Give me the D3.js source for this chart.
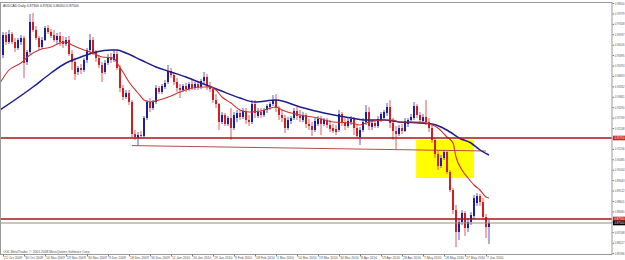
<!DOCTYPE html>
<html>
<head>
<meta charset="utf-8">
<script src="https://cdn.jsdelivr.net/npm/d3@7/dist/d3.min.js"></script>
<style>
  body { margin: 0; background: #fff; }
  svg { display: block; font-family: "Liberation Sans", Arial, sans-serif; }
</style>
</head>
<body>
<svg id="chart"></svg>
<script>
var symbol = "AUDCAD,Daily";

// daily bars: [open, high, low, close]
var ohlc = [
  [0.9590,0.9705,0.9575,0.9690], [0.9690,0.9705,0.9640,0.9655], [0.9655,0.9715,0.9645,0.9695], [0.9695,0.9705,0.9645,0.9655],
  [0.9655,0.9675,0.9605,0.9625], [0.9625,0.9675,0.9615,0.9665], [0.9655,0.9690,0.9640,0.9675], [0.9675,0.9685,0.9475,0.9550],
  [0.9555,0.9615,0.9540,0.9605], [0.9605,0.9795,0.9595,0.9755], [0.9755,0.9800,0.9705,0.9715], [0.9715,0.9735,0.9665,0.9675],
  [0.9675,0.9685,0.9615,0.9630], [0.9630,0.9680,0.9620,0.9665], [0.9665,0.9735,0.9660,0.9725], [0.9725,0.9740,0.9695,0.9705],
  [0.9705,0.9720,0.9675,0.9685], [0.9690,0.9715,0.9655,0.9665], [0.9665,0.9700,0.9645,0.9685], [0.9685,0.9705,0.9635,0.9655],
  [0.9660,0.9685,0.9625,0.9645], [0.9645,0.9680,0.9635,0.9665], [0.9665,0.9685,0.9585,0.9595], [0.9595,0.9615,0.9515,0.9555],
  [0.9555,0.9575,0.9465,0.9495], [0.9505,0.9535,0.9490,0.9525], [0.9525,0.9545,0.9495,0.9515], [0.9515,0.9575,0.9505,0.9565],
  [0.9565,0.9625,0.9550,0.9615], [0.9615,0.9695,0.9605,0.9665], [0.9665,0.9680,0.9590,0.9605], [0.9605,0.9615,0.9555,0.9575],
  [0.9575,0.9590,0.9525,0.9540], [0.9540,0.9555,0.9455,0.9500], [0.9505,0.9565,0.9495,0.9550], [0.9550,0.9595,0.9540,0.9580],
  [0.9580,0.9600,0.9550,0.9565], [0.9565,0.9615,0.9555,0.9595], [0.9595,0.9615,0.9515,0.9525], [0.9525,0.9540,0.9405,0.9425],
  [0.9425,0.9440,0.9365,0.9380], [0.9380,0.9415,0.9370,0.9400], [0.9400,0.9415,0.9340,0.9355], [0.9355,0.9365,0.9175,0.9195],
  [0.9195,0.9215,0.9165,0.9180], [0.9175,0.9205,0.9135,0.9190], [0.9190,0.9210,0.9175,0.9185], [0.9185,0.9285,0.9175,0.9275],
  [0.9275,0.9365,0.9265,0.9355], [0.9355,0.9375,0.9305,0.9325], [0.9325,0.9365,0.9315,0.9355], [0.9355,0.9440,0.9345,0.9425],
  [0.9425,0.9435,0.9395,0.9405], [0.9405,0.9445,0.9395,0.9435], [0.9430,0.9465,0.9420,0.9450], [0.9455,0.9540,0.9445,0.9510],
  [0.9510,0.9525,0.9475,0.9490], [0.9490,0.9505,0.9440,0.9455], [0.9455,0.9475,0.9405,0.9425], [0.9425,0.9445,0.9375,0.9415],
  [0.9415,0.9445,0.9405,0.9435], [0.9435,0.9450,0.9405,0.9420], [0.9420,0.9455,0.9410,0.9445], [0.9445,0.9465,0.9415,0.9425],
  [0.9425,0.9455,0.9415,0.9445], [0.9445,0.9460,0.9415,0.9430], [0.9430,0.9470,0.9420,0.9460], [0.9460,0.9505,0.9445,0.9480],
  [0.9480,0.9495,0.9415,0.9435], [0.9435,0.9455,0.9405,0.9420], [0.9420,0.9430,0.9350,0.9365], [0.9365,0.9395,0.9325,0.9345],
  [0.9345,0.9350,0.9215,0.9255], [0.9255,0.9305,0.9245,0.9290], [0.9290,0.9300,0.9235,0.9245], [0.9245,0.9285,0.9235,0.9275],
  [0.9275,0.9325,0.9165,0.9225], [0.9225,0.9305,0.9215,0.9290], [0.9275,0.9315,0.9255,0.9300], [0.9300,0.9315,0.9265,0.9280],
  [0.9280,0.9325,0.9270,0.9310], [0.9310,0.9325,0.9245,0.9265], [0.9265,0.9290,0.9235,0.9255], [0.9255,0.9365,0.9245,0.9345],
  [0.9345,0.9365,0.9275,0.9300], [0.9285,0.9325,0.9275,0.9305], [0.9305,0.9325,0.9275,0.9290], [0.9290,0.9325,0.9280,0.9315],
  [0.9315,0.9345,0.9300,0.9335], [0.9330,0.9355,0.9315,0.9345], [0.9345,0.9390,0.9335,0.9365], [0.9365,0.9395,0.9305,0.9325],
  [0.9325,0.9335,0.9265,0.9290], [0.9290,0.9315,0.9255,0.9275], [0.9275,0.9290,0.9200,0.9225], [0.9225,0.9280,0.9215,0.9265],
  [0.9260,0.9285,0.9245,0.9275], [0.9275,0.9325,0.9265,0.9310], [0.9310,0.9330,0.9265,0.9285], [0.9285,0.9315,0.9255,0.9275],
  [0.9265,0.9305,0.9255,0.9290], [0.9290,0.9300,0.9225,0.9245], [0.9245,0.9270,0.9215,0.9235], [0.9235,0.9255,0.9185,0.9215],
  [0.9215,0.9275,0.9205,0.9260], [0.9245,0.9285,0.9235,0.9270], [0.9270,0.9285,0.9190,0.9245], [0.9245,0.9275,0.9235,0.9265],
  [0.9265,0.9275,0.9225,0.9240], [0.9240,0.9265,0.9205,0.9220], [0.9225,0.9245,0.9200,0.9210], [0.9220,0.9240,0.9190,0.9205],
  [0.9215,0.9315,0.9205,0.9295], [0.9295,0.9305,0.9235,0.9250], [0.9250,0.9275,0.9215,0.9235], [0.9235,0.9275,0.9225,0.9260],
  [0.9255,0.9285,0.9240,0.9270], [0.9270,0.9280,0.9190,0.9225], [0.9225,0.9240,0.9175,0.9185], [0.9180,0.9230,0.9140,0.9215],
  [0.9215,0.9275,0.9205,0.9255], [0.9255,0.9340,0.9240,0.9305], [0.9305,0.9330,0.9215,0.9235], [0.9230,0.9265,0.9215,0.9250],
  [0.9250,0.9265,0.9225,0.9235], [0.9235,0.9285,0.9225,0.9270], [0.9265,0.9305,0.9255,0.9295], [0.9275,0.9315,0.9265,0.9305],
  [0.9300,0.9350,0.9285,0.9330], [0.9330,0.9365,0.9225,0.9250], [0.9250,0.9275,0.9165,0.9210], [0.9210,0.9235,0.9115,0.9195],
  [0.9195,0.9240,0.9185,0.9225], [0.9225,0.9245,0.9195,0.9210], [0.9210,0.9275,0.9205,0.9260], [0.9245,0.9275,0.9230,0.9265],
  [0.9265,0.9295,0.9250,0.9280], [0.9275,0.9355,0.9265,0.9335], [0.9335,0.9345,0.9275,0.9290], [0.9290,0.9305,0.9245,0.9265],
  [0.9260,0.9295,0.9250,0.9280], [0.9280,0.9365,0.9240,0.9255], [0.9255,0.9275,0.9205,0.9225], [0.9225,0.9240,0.9150,0.9165],
  [0.9165,0.9175,0.9075,0.9095], [0.9095,0.9115,0.9015,0.9035], [0.9035,0.9090,0.9025,0.9075], [0.9075,0.9115,0.9065,0.9105],
  [0.9105,0.9115,0.8995,0.9005], [0.9005,0.9015,0.8905,0.8915], [0.8915,0.8925,0.8795,0.8815], [0.8815,0.8840,0.8630,0.8705],
  [0.8705,0.8775,0.8665,0.8755], [0.8755,0.8815,0.8740,0.8800], [0.8800,0.8810,0.8685,0.8725], [0.8725,0.8775,0.8705,0.8755],
  [0.8755,0.8805,0.8740,0.8790], [0.8785,0.8890,0.8770,0.8875], [0.8850,0.8900,0.8835,0.8885], [0.8885,0.8895,0.8835,0.8855],
  [0.8855,0.8875,0.8765,0.8780], [0.8780,0.8795,0.8675,0.8730], [0.8730,0.8765,0.8645,0.8750]
];

// moving averages: [bar, price]
var maFast = [
  [-1,0.9450],[2,0.9515],[6,0.9550],[9,0.9590],[12,0.9615],[16,0.9630],[19,0.9650],[21,0.9655],[23,0.9640],
  [27,0.9615],[30,0.9600],[33,0.9580],[37,0.9575],[38,0.9550],[40,0.9505],[42,0.9455],[45,0.9400],[47,0.9365],
  [49,0.9355],[52,0.9365],[56,0.9385],[59,0.9405],[62,0.9420],[66,0.9430],[69,0.9430],[71,0.9415],[73,0.9380],
  [76,0.9350],[79,0.9315],[82,0.9305],[86,0.9310],[91,0.9330],[93,0.9315],[99,0.9290],[105,0.9275],[110,0.9255],
  [116,0.9250],[119,0.9240],[122,0.9255],[127,0.9265],[130,0.9265],[132,0.9255],[136,0.9255],[139,0.9255],
  [141,0.9250],[145,0.9225],[148,0.9180],[150,0.9150],[151,0.9080],[153,0.9015],[155,0.8975],[157,0.8940],
  [159,0.8915],[161,0.8880],[162,0.8875]
];
var maSlow = [
  [-1,0.9315],[10,0.9430],[16,0.9500],[21,0.9550],[26,0.9580],[31,0.9605],[36,0.9615],[38,0.9615],[41,0.9600],
  [46,0.9565],[51,0.9530],[56,0.9505],[61,0.9480],[66,0.9450],[72,0.9415],[79,0.9375],[84,0.9355],[91,0.9365],
  [99,0.9330],[107,0.9300],[116,0.9275],[121,0.9265],[127,0.9265],[132,0.9255],[139,0.9250],[143,0.9245],
  [146,0.9230],[149,0.9205],[152,0.9175],[156,0.9150],[159,0.9115],[162,0.9090]
];

var levels = [0.9175, 0.8770];
var lastPrice = 0.8750;
var trendBars = [43, 161];
var trendPrices = [0.9137, 0.9110];
var zoneBars = [137.7, 157];
var zonePrices = [0.9165, 0.8975];

var priceTicks = [0.98500, 0.97979, 0.97458, 0.96937, 0.96416, 0.95895, 0.95374, 0.94853, 0.94332,
  0.93811, 0.93290, 0.92769, 0.92248, 0.91727, 0.91206, 0.90685, 0.90164, 0.89643, 0.89122, 0.88601,
  0.88080, 0.87559, 0.87038, 0.86517, 0.85996];
var dateLabels = ["21 Oct 2009", "30 Oct 2009", "10 Nov 2009", "19 Nov 2009", "30 Nov 2009", "9 Dec 2009",
  "18 Dec 2009", "30 Dec 2009", "11 Jan 2010", "20 Jan 2010", "29 Jan 2010", "9 Feb 2010", "18 Feb 2010",
  "1 Mar 2010", "10 Mar 2010", "19 Mar 2010", "30 Mar 2010", "8 Apr 2010", "19 Apr 2010", "28 Apr 2010",
  "7 May 2010", "18 May 2010", "27 May 2010", "7 Jun 2010"];
var dateStep = 7;

var width = 625, height = 260;
var plotRight = 612, plotTop = 2, plotBottom = 254;

var svg = d3.select("#chart").attr("width", width).attr("height", height);

var x = d3.scaleLinear().domain([0, 203]).range([3, 612]);
var y = d3.scaleLinear().domain([0.8595, 0.9865]).range([254, 0]);

svg.append("clipPath").attr("id", "plot")
  .append("rect").attr("x", 0).attr("y", plotTop).attr("width", plotRight).attr("height", plotBottom - plotTop);

var plot = svg.append("g").attr("clip-path", "url(#plot)");

// highlighted zone
plot.append("rect")
  .attr("x", x(zoneBars[0])).attr("width", x(zoneBars[1]) - x(zoneBars[0]))
  .attr("y", y(zonePrices[0])).attr("height", y(zonePrices[1]) - y(zonePrices[0]))
  .attr("fill", "#ffff00");

// support trendline
plot.append("line")
  .attr("x1", x(trendBars[0])).attr("y1", y(trendPrices[0]))
  .attr("x2", x(trendBars[1])).attr("y2", y(trendPrices[1]))
  .attr("stroke", "#b84a4a").attr("stroke-width", 1);

// candles
var bars = plot.append("g").selectAll("g").data(ohlc).enter().append("g");
bars.append("line")
  .attr("x1", function(d, i) { return x(i); })
  .attr("x2", function(d, i) { return x(i); })
  .attr("y1", function(d) { return y(d[1]); })
  .attr("y2", function(d) { return y(d[2]); })
  .attr("stroke", function(d) { return d[3] >= d[0] ? "#5a5ac8" : "#e05a5a"; })
  .attr("stroke-width", 1);
bars.append("rect")
  .attr("x", function(d, i) { return x(i) - 1; })
  .attr("width", 2)
  .attr("y", function(d) { return y(Math.max(d[0], d[3])); })
  .attr("height", function(d) { return Math.max(1, Math.abs(y(d[0]) - y(d[3]))); })
  .attr("fill", function(d) { return d[3] >= d[0] ? "#1e1ea0" : "#d41e1e"; });

// moving averages
var line = d3.line()
  .x(function(d) { return x(d[0]); })
  .y(function(d) { return y(d[1]); })
  .curve(d3.curveMonotoneX);
plot.append("path").datum(maSlow).attr("d", line)
  .attr("fill", "none").attr("stroke", "#1e1e8c").attr("stroke-width", 1.5);
plot.append("path").datum(maFast).attr("d", line)
  .attr("fill", "none").attr("stroke", "#c83232").attr("stroke-width", 1.1);

// horizontal levels
plot.selectAll(".level").data(levels).enter().append("line")
  .attr("x1", 0).attr("x2", plotRight)
  .attr("y1", function(d) { return y(d); }).attr("y2", function(d) { return y(d); })
  .attr("stroke", "#a81414").attr("stroke-width", 1.6);
plot.append("line")
  .attr("x1", 0).attr("x2", plotRight)
  .attr("y1", y(lastPrice)).attr("y2", y(lastPrice))
  .attr("stroke", "#8c8c8c").attr("stroke-width", 1);

// frame
svg.append("rect")
  .attr("x", 0.5).attr("y", plotTop + 0.5)
  .attr("width", plotRight - 0.5).attr("height", plotBottom - plotTop)
  .attr("fill", "none").attr("stroke", "#9a9a9a").attr("stroke-width", 1);

// price axis
var yAxis = svg.append("g")
  .attr("transform", "translate(" + (plotRight + 0.5) + ",0)")
  .call(d3.axisRight(y).tickValues(priceTicks).tickSize(1.5).tickPadding(0.8).tickFormat(d3.format(".5f")));
yAxis.select(".domain").remove();
yAxis.selectAll("line").attr("stroke", "#777");
yAxis.selectAll("text").attr("font-size", "3.2px").attr("fill", "#555")
  .attr("textLength", 9.8).attr("lengthAdjust", "spacingAndGlyphs")
  .attr("font-family", "Liberation Sans, Arial, sans-serif");

// price tags on the axis
var tags = levels.map(function(v) { return {v: v, c: "#d41e1e"}; }).concat([{v: lastPrice, c: "#000"}]);
var tag = svg.append("g").selectAll("g").data(tags).enter().append("g")
  .attr("transform", function(d) { return "translate(" + (plotRight + 1) + "," + y(d.v) + ")"; });
tag.append("rect").attr("x", 0).attr("y", -2.3).attr("width", width - plotRight - 1).attr("height", 4.6)
  .attr("fill", function(d) { return d.c; });
tag.append("text").attr("x", 1.6).attr("dy", "0.35em").attr("font-size", "3.2px").attr("fill", "#fff")
  .attr("textLength", 9.8).attr("lengthAdjust", "spacingAndGlyphs")
  .text(function(d) { return d.v.toFixed(5); });

// date axis
var dateBars = dateLabels.map(function(d, i) { return i * dateStep; });
var xAxis = svg.append("g")
  .attr("transform", "translate(0," + (plotBottom + 0.5) + ")")
  .call(d3.axisBottom(x).tickValues(dateBars).tickSize(2).tickPadding(0.5)
    .tickFormat(function(d, i) { return dateLabels[i]; }));
xAxis.select(".domain").remove();
xAxis.selectAll("line").attr("stroke", "#777");
xAxis.selectAll("text").attr("font-size", "3.3px").attr("fill", "#555").attr("text-anchor", "start")
  .attr("dx", "0.6px").attr("font-family", "Liberation Sans, Arial, sans-serif");

// header and footer text
var last = ohlc[ohlc.length - 1];
svg.append("text").attr("x", 3).attr("y", 7).attr("font-size", "3.4px").attr("fill", "#333")
  .text(symbol + " " + last.map(function(v) { return v.toFixed(5); }).join(" "));
svg.append("text").attr("x", 3).attr("y", 252.5).attr("font-size", "3.3px").attr("fill", "#555")
  .text("OGL MetaTrader, \u00a9 2001-2008 MetaQuotes Software Corp.");
</script>
</body>
</html>
